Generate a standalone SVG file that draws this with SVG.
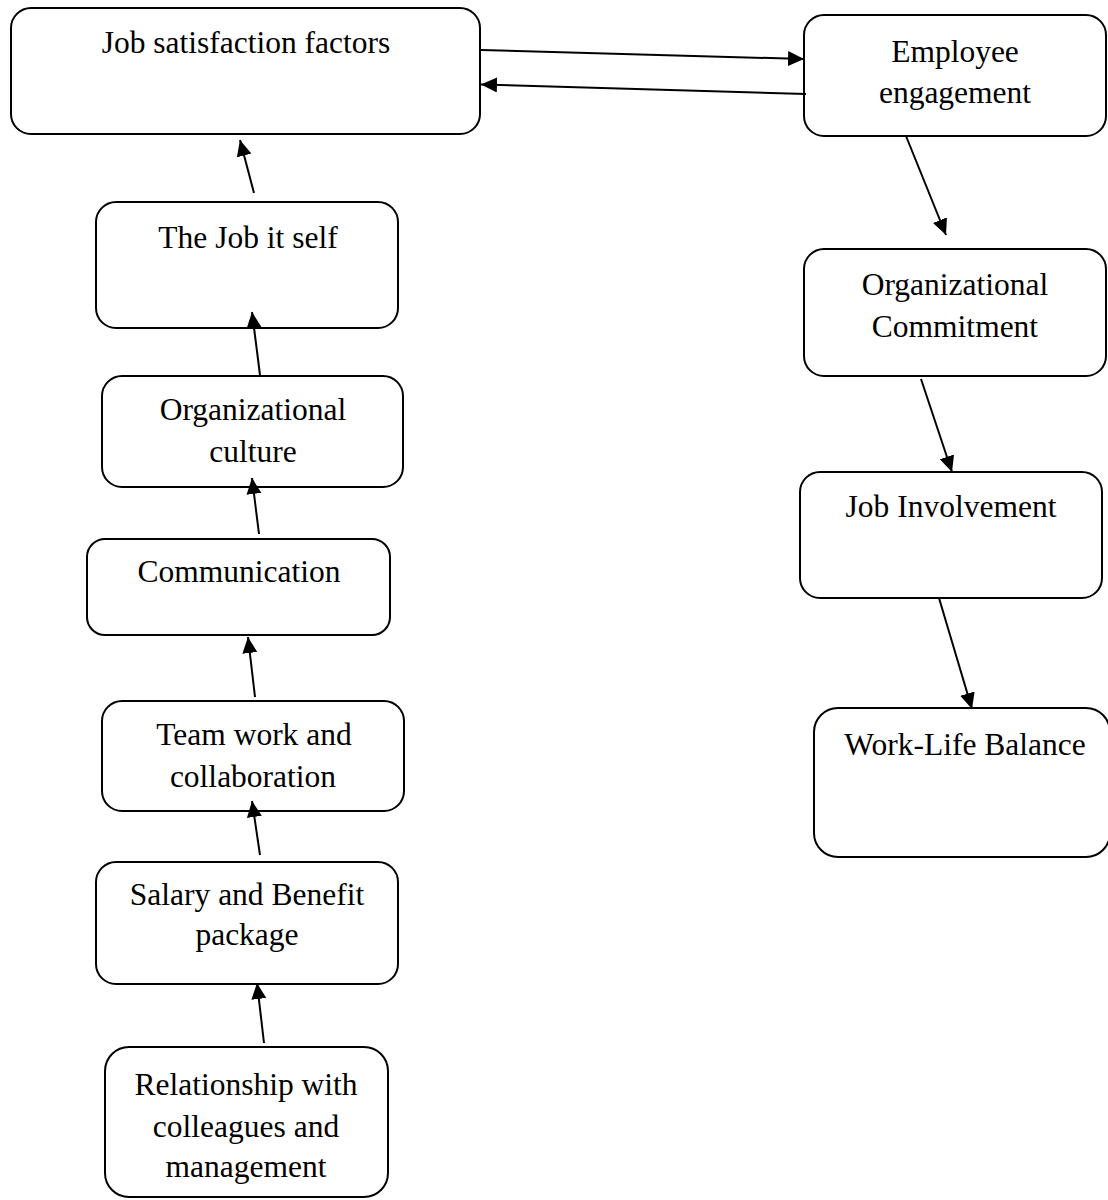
<svg xmlns="http://www.w3.org/2000/svg" width="1108" height="1200" viewBox="0 0 1108 1200">
<style>
.box{fill:#fff;stroke:#000;stroke-width:2}
.lbl{font-family:'Liberation Serif','Times New Roman','DejaVu Serif',serif;font-size:31.5px;fill:#000;text-anchor:middle}
.edge{stroke:#000;stroke-width:2;fill:none;marker-end:url(#ah)}
</style>
<defs>
<marker id="ah" markerUnits="userSpaceOnUse" markerWidth="18" markerHeight="16" refX="16" refY="7.5" orient="auto">
<path d="M0,0 L16,7.5 L0,15 z" fill="#000"/>
</marker>
</defs>
<rect width="1108" height="1200" fill="#fff"/>
<g id="job-satisfaction-factors">
<rect class="box" x="11" y="8" width="469" height="126" rx="20"/>
<text class="lbl" x="246" y="53">Job satisfaction factors</text>
</g>
<g id="employee-engagement">
<rect class="box" x="804" y="15" width="302" height="121" rx="20"/>
<text class="lbl" x="955" y="62">Employee</text>
<text class="lbl" x="955" y="103">engagement</text>
</g>
<g id="job-it-self">
<rect class="box" x="96" y="202" width="302" height="126" rx="20"/>
<text class="lbl" x="248" y="248">The Job it self</text>
</g>
<g id="organizational-culture">
<rect class="box" x="102" y="376" width="301" height="111" rx="20"/>
<text class="lbl" x="253" y="420">Organizational</text>
<text class="lbl" x="253" y="462">culture</text>
</g>
<g id="communication">
<rect class="box" x="87" y="539" width="303" height="96" rx="18"/>
<text class="lbl" x="239" y="582">Communication</text>
</g>
<g id="team-work">
<rect class="box" x="102" y="701" width="302" height="110" rx="20"/>
<text class="lbl" x="254" y="745">Team work and</text>
<text class="lbl" x="253" y="787">collaboration</text>
</g>
<g id="salary-benefit">
<rect class="box" x="96" y="862" width="302" height="122" rx="20"/>
<text class="lbl" x="247" y="905">Salary and Benefit</text>
<text class="lbl" x="247" y="945">package</text>
</g>
<g id="relationship">
<rect class="box" x="105" y="1047" width="283" height="150" rx="24"/>
<text class="lbl" x="246" y="1095">Relationship with</text>
<text class="lbl" x="246" y="1137">colleagues and</text>
<text class="lbl" x="246" y="1177">management</text>
</g>
<g id="organizational-commitment">
<rect class="box" x="804" y="249" width="302" height="127" rx="20"/>
<text class="lbl" x="955" y="295">Organizational</text>
<text class="lbl" x="955" y="337">Commitment</text>
</g>
<g id="job-involvement">
<rect class="box" x="800" y="472" width="302" height="126" rx="20"/>
<text class="lbl" x="951" y="517">Job Involvement</text>
</g>
<g id="work-life-balance">
<rect class="box" x="814" y="708" width="296" height="149" rx="24"/>
<text class="lbl" x="965" y="755">Work-Life Balance</text>
</g>
<g id="connectors">
<line class="edge" x1="481" y1="50" x2="804" y2="59"/>
<line class="edge" x1="806" y1="94" x2="481" y2="84.5"/>
<line class="edge" x1="906" y1="136" x2="946" y2="235"/>
<line class="edge" x1="921" y1="379" x2="952" y2="472"/>
<line class="edge" x1="939" y1="598" x2="972" y2="709"/>
<line class="edge" x1="254" y1="193" x2="240" y2="140"/>
<line class="edge" x1="260" y1="375" x2="252" y2="312"/>
<line class="edge" x1="259" y1="534" x2="252" y2="478"/>
<line class="edge" x1="255" y1="697" x2="248" y2="637"/>
<line class="edge" x1="260" y1="855" x2="252" y2="801"/>
<line class="edge" x1="264" y1="1043" x2="257" y2="983"/>
</g>
</svg>
